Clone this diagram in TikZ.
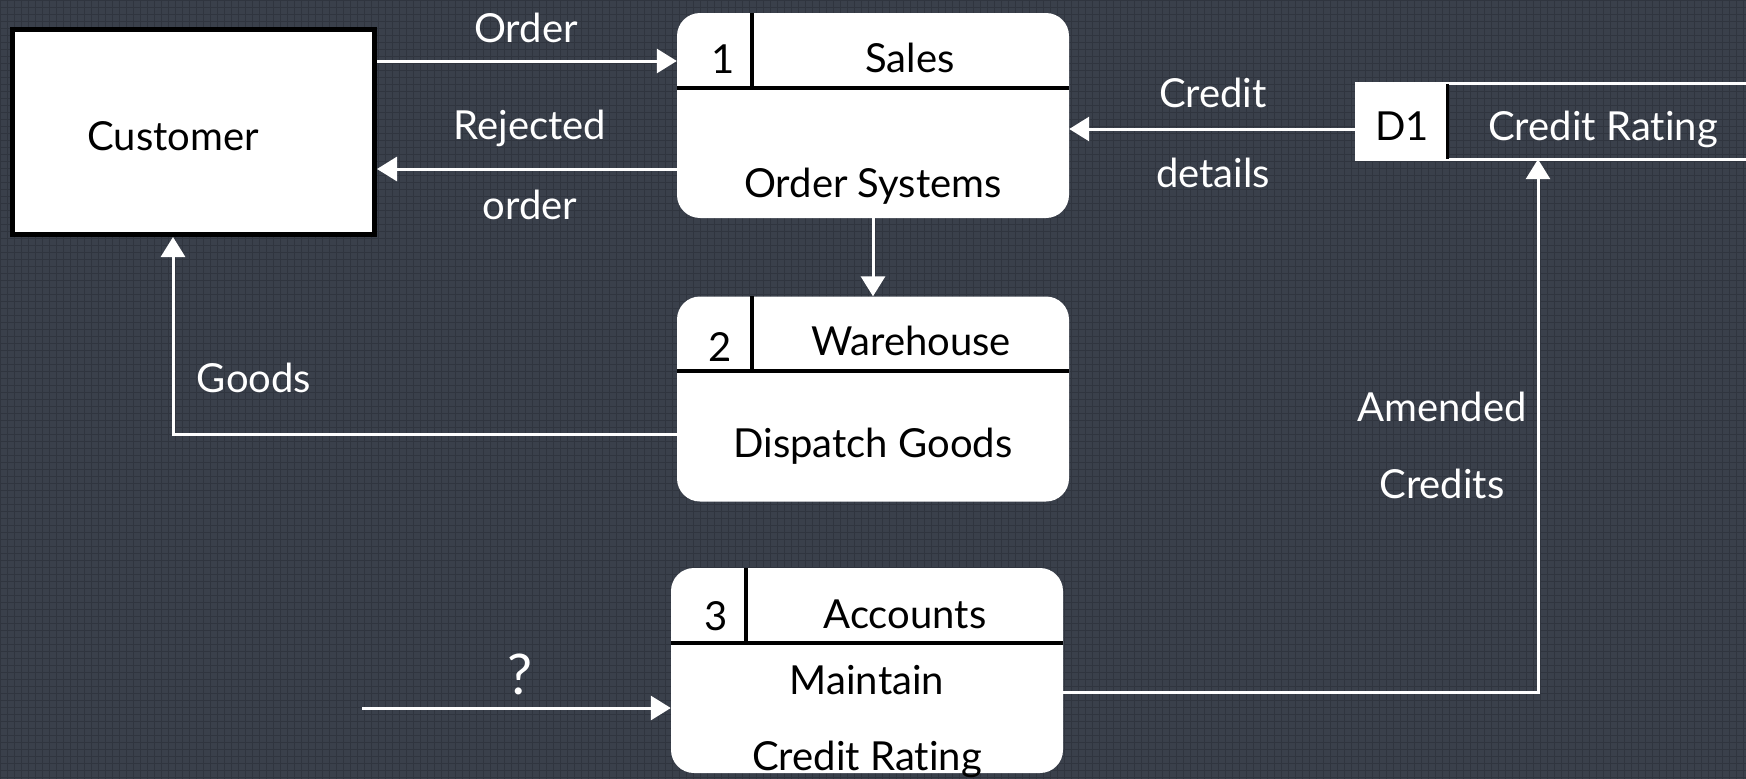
\documentclass[tikz,border=0pt]{standalone}
\usepackage{fontspec}
\setmainfont{Lato}[Ligatures=NoCommon]
\usepackage{tikz}
\usetikzlibrary{arrows.meta}
\definecolor{board}{HTML}{3A404B}
\definecolor{boardline}{HTML}{30353F}
\newcommand{\dfdfont}{\fontsize{40}{48}\selectfont}
\tikzset{
  ext/.style={draw=black, fill=white, line width=5pt, minimum width=362pt, minimum height=205pt, inner sep=0pt},
  proc/.style={fill=white, rounded corners=23pt, minimum width=392pt, minimum height=205pt, inner sep=0pt},
  divider/.style={draw=black, line width=4pt},
  arr/.style={draw=white, line width=3pt, -{Triangle[length=20pt,width=24pt]}},
  storeline/.style={draw=white, line width=3pt},
  blbl/.style={text=black, font=\dfdfont, text height=34pt, text depth=0pt, inner sep=0pt},
  wlbl/.style={text=white, font=\dfdfont, text height=34pt, text depth=0pt, inner sep=0pt}
}

\begin{document}
\begin{tikzpicture}[x=1pt, y=-1pt]
  \useasboundingbox (0,0) rectangle (1746,779);
  \fill[board] (0,0) rectangle (1746,779);
  \draw[boardline, line width=1pt, step=7pt] (0,0) grid (1746,779);

  % external entity
  \node[ext] (customer) at (193.5,132) {};
  \node[blbl] (custname) at (173,133) {Customer};

  % processes
  \node[proc] (sales) at (873,115.5) {};
  \draw[divider] ([yshift=-75pt]sales.north west) -- ([yshift=-75pt]sales.north east);
  \draw[divider] ([xshift=75pt]sales.north west) -- ([xshift=75pt,yshift=-75pt]sales.north west);
  \node[blbl] (salesno) at ([xshift=46pt,yshift=-44pt]sales.north west) {1};
  \node[blbl] (salestitle) at ([xshift=37pt,yshift=-43pt]sales.north) {Sales};
  \node[blbl] (salesbody) at ([yshift=-64.5pt]sales.center) {Order Systems};

  \node[proc] (warehouse) at (873,399) {};
  \draw[divider] ([yshift=-75pt]warehouse.north west) -- ([yshift=-75pt]warehouse.north east);
  \draw[divider] ([xshift=75pt]warehouse.north west) -- ([xshift=75pt,yshift=-75pt]warehouse.north west);
  \node[blbl] (warehouseno) at ([xshift=43pt,yshift=-48pt]warehouse.north west) {2};
  \node[blbl] (warehousetitle) at ([xshift=38pt,yshift=-42pt]warehouse.north) {Warehouse};
  \node[blbl] (warehousebody) at ([yshift=-41pt]warehouse.center) {Dispatch Goods};

  \node[proc] (accounts) at (867,670.5) {};
  \draw[divider] ([yshift=-75pt]accounts.north west) -- ([yshift=-75pt]accounts.north east);
  \draw[divider] ([xshift=75pt]accounts.north west) -- ([xshift=75pt,yshift=-75pt]accounts.north west);
  \node[blbl] (accountsno) at ([xshift=45pt,yshift=-46pt]accounts.north west) {3};
  \node[blbl] (accountstitle) at ([xshift=38pt,yshift=-44pt]accounts.north) {Accounts};
  \node[blbl] (accountsbody) at ([yshift=-7pt]accounts.center) {Maintain};
  \node[blbl] (accountsbodyb) at ([yshift=-83pt]accounts.center) {Credit Rating};

  % data store
  \node[fill=white, minimum width=90pt, minimum height=75pt, inner sep=0pt] (d1) at (1402,121.5) {};
  \node[blbl] (d1no) at (1402,123) {D1};
  \node[minimum width=299pt, minimum height=75pt, inner sep=0pt] (crating) at (1596.5,121.5) {};
  \node[wlbl] (cratingname) at (1603,123) {Credit Rating};
  \draw[storeline] (crating.north east) -- (d1.north west) -- (d1.south west) -- (crating.south east);
  \draw[draw=black, line width=3pt] (d1.north east) -- (d1.south east);

  % flows
  \draw[arr] ([yshift=71pt]customer.east) -- ([yshift=71pt]customer.east -| sales.west);
  \node[wlbl] (orderlbl) at (526,25) {Order};

  \draw[arr] ([yshift=-53.5pt]sales.west) -- ([yshift=-53.5pt]sales.west -| customer.east);
  \node[wlbl] (rejlbl) at (530,122) {Rejected};
  \node[wlbl] (rejlblb) at (530,202) {order};

  \draw[arr] ([yshift=-7.5pt]d1.west) -- ([yshift=-7.5pt]d1.west -| sales.east);
  \node[wlbl] (creditlbl) at (1213,90) {Credit};
  \node[wlbl] (creditlblb) at (1213,170) {details};

  \draw[arr] (sales.south) -- (warehouse.north);

  \draw[arr] ([yshift=-35pt]warehouse.west) -| ([xshift=-20.5pt]customer.south);
  \node[wlbl] (goodslbl) at (254,375) {Goods};

  \coordinate (qstart) at (362,708);
  \draw[arr] (qstart) -- (qstart -| accounts.west);
  \node[wlbl, font=\fontsize{56}{64}\selectfont, text height=34pt] (qlbl) at (520,677) {?};

  \draw[arr] ([yshift=-21.5pt]accounts.east) -| ([xshift=-58.5pt]crating.south);
  \node[wlbl] (amendlbl) at (1442,404) {Amended};
  \node[wlbl] (amendlblb) at (1442,481) {Credits};
\end{tikzpicture}
\end{document}
